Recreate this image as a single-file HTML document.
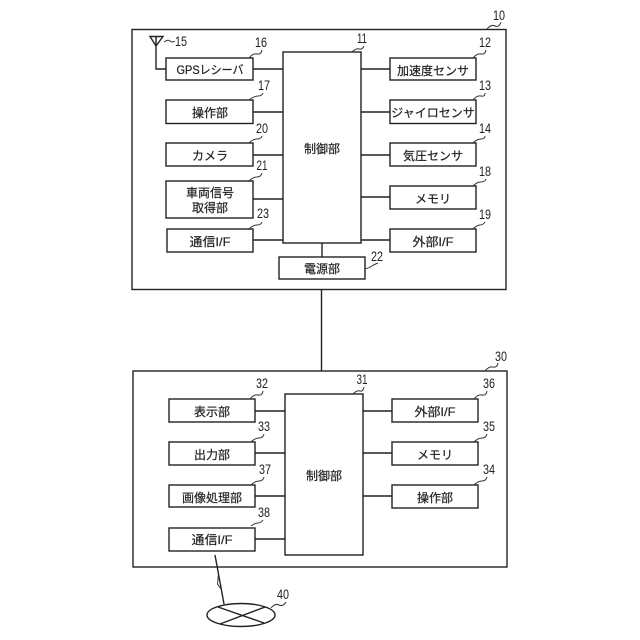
<!DOCTYPE html>
<html>
<head>
<meta charset="utf-8">
<style>
html,body{margin:0;padding:0;background:#fff;}
svg{display:block;}
rect{fill:#fff;stroke:#222;stroke-width:1.4;}
.l{fill:none;stroke:#222;stroke-width:1.4;}
.c{fill:none;stroke:#333;stroke-width:1;}
text{font-family:"Liberation Sans","Noto Sans CJK JP",sans-serif;fill:#222;}
.t{font-size:12px;text-anchor:middle;stroke:#222;stroke-width:.2;}
.n{font-size:13.5px;font-family:"Liberation Sans",sans-serif;text-anchor:middle;}
</style>
</head>
<body>
<svg width="640" height="640" viewBox="0 0 640 640" xmlns="http://www.w3.org/2000/svg">
<rect x="132" y="29.500" width="374" height="260"/>
<rect x="133" y="371" width="374" height="196"/>
<path class="l" d="M321.500 290V371"/>

<!-- top connectors -->
<path class="l" d="M253 69H283M253 112H283M253 155H283M253 199H283M253 240H283M361 69H390M361 112H390M361 155H390M361 197H390M361 240H390M322 243V257"/>
<!-- antenna -->
<path class="l" d="M150 36.500H163L156 46ZM156 36.500V46M156 46V69H166"/>
<path class="c" d="M164 42Q168 39 170 41T175 41"/>

<rect x="283" y="52" width="78" height="191"/>
<rect x="166" y="58" width="87" height="22"/>
<rect x="166" y="100" width="87" height="23.500"/>
<rect x="166" y="143" width="87" height="23"/>
<rect x="166" y="181" width="87" height="37"/>
<rect x="167" y="229" width="86" height="23"/>
<rect x="390" y="58" width="86" height="22"/>
<rect x="390" y="100" width="86" height="23.500"/>
<rect x="390" y="143" width="86" height="23"/>
<rect x="390" y="186" width="86" height="23"/>
<rect x="390" y="229" width="86" height="23"/>
<rect x="279" y="257" width="86" height="22"/>

<text class="t" x="322" y="153">制御部</text>
<text class="t" x="210" y="74" textLength="67" lengthAdjust="spacingAndGlyphs">GPSレシーバ</text>
<text class="t" x="210" y="117">操作部</text>
<text class="t" x="210" y="160">カメラ</text>
<text class="t" x="210" y="197">車両信号</text>
<text class="t" x="210" y="212">取得部</text>
<text class="t" x="210" y="246" textLength="41" lengthAdjust="spacingAndGlyphs">通信I/F</text>
<text class="t" x="433" y="75">加速度センサ</text>
<text class="t" x="433" y="117">ジャイロセンサ</text>
<text class="t" x="433" y="160">気圧センサ</text>
<text class="t" x="433" y="203">メモリ</text>
<text class="t" x="433" y="246" textLength="41" lengthAdjust="spacingAndGlyphs">外部I/F</text>
<text class="t" x="322" y="273">電源部</text>

<!-- ref numbers top -->
<text class="n" x="499" y="20" textLength="12" lengthAdjust="spacingAndGlyphs">10</text>
<path class="c" d="M487 29Q491 24 495 26T501 22"/>
<text class="n" x="362" y="43" textLength="10" lengthAdjust="spacingAndGlyphs">11</text>
<path class="c" d="M352 52Q356 48 359 49T364 46"/>
<text class="n" x="485" y="47" textLength="12" lengthAdjust="spacingAndGlyphs">12</text>
<path class="c" d="M473 58Q477 53 481 54T486 50"/>
<text class="n" x="485" y="90" textLength="12" lengthAdjust="spacingAndGlyphs">13</text>
<path class="c" d="M473 100Q477 95 481 96T485 93"/>
<text class="n" x="485" y="133" textLength="12" lengthAdjust="spacingAndGlyphs">14</text>
<path class="c" d="M473 143Q477 139 481 139T485 136"/>
<text class="n" x="485" y="176" textLength="12" lengthAdjust="spacingAndGlyphs">18</text>
<path class="c" d="M473 186Q477 182 481 182T486 179"/>
<text class="n" x="485" y="219" textLength="12" lengthAdjust="spacingAndGlyphs">19</text>
<path class="c" d="M473 229Q477 225 480 225T485 222"/>
<text class="n" x="377" y="261" textLength="12" lengthAdjust="spacingAndGlyphs">22</text>
<path class="c" d="M365 269Q369 268 372 266T378 263"/>
<text class="n" x="261" y="47" textLength="12" lengthAdjust="spacingAndGlyphs">16</text>
<path class="c" d="M249 58Q253 53 257 54T262 50"/>
<text class="n" x="264" y="90" textLength="12" lengthAdjust="spacingAndGlyphs">17</text>
<path class="c" d="M249 100Q254 96 258 96T263 93"/>
<text class="n" x="262" y="133" textLength="12" lengthAdjust="spacingAndGlyphs">20</text>
<path class="c" d="M249 143Q253 139 257 139T262 136"/>
<text class="n" x="262" y="170" textLength="11" lengthAdjust="spacingAndGlyphs">21</text>
<path class="c" d="M249 181Q253 177 257 177T262 173"/>
<text class="n" x="263" y="218" textLength="12" lengthAdjust="spacingAndGlyphs">23</text>
<path class="c" d="M249 229Q253 225 257 225T262 222"/>
<text class="n" x="181" y="46" textLength="12" lengthAdjust="spacingAndGlyphs">15</text>

<!-- bottom connectors -->
<path class="l" d="M255 411H285M255 453H285M255 496H285M255 539H285M363 411H392M363 453H392M363 496H392"/>
<rect x="285" y="394" width="78" height="161"/>
<rect x="169" y="399" width="86" height="23"/>
<rect x="169" y="442" width="86" height="23"/>
<rect x="169" y="485" width="86" height="22"/>
<rect x="169" y="528" width="86" height="23"/>
<rect x="392" y="399" width="86" height="23"/>
<rect x="392" y="442" width="86" height="23"/>
<rect x="392" y="485" width="86" height="23"/>

<text class="t" x="324" y="480">制御部</text>
<text class="t" x="212" y="416">表示部</text>
<text class="t" x="212" y="459">出力部</text>
<text class="t" x="212" y="502">画像処理部</text>
<text class="t" x="212" y="544" textLength="41" lengthAdjust="spacingAndGlyphs">通信I/F</text>
<text class="t" x="435" y="416" textLength="41" lengthAdjust="spacingAndGlyphs">外部I/F</text>
<text class="t" x="435" y="459">メモリ</text>
<text class="t" x="435" y="502">操作部</text>

<text class="n" x="362" y="384" textLength="11" lengthAdjust="spacingAndGlyphs">31</text>
<path class="c" d="M353 394Q357 390 360 391T364 387"/>
<text class="n" x="262" y="388" textLength="12" lengthAdjust="spacingAndGlyphs">32</text>
<path class="c" d="M250 399Q254 394 258 395T263 391"/>
<text class="n" x="264" y="431" textLength="12" lengthAdjust="spacingAndGlyphs">33</text>
<path class="c" d="M251 442Q255 438 259 438T264 434"/>
<text class="n" x="265" y="474" textLength="12" lengthAdjust="spacingAndGlyphs">37</text>
<path class="c" d="M251 485Q255 481 259 481T264 477"/>
<text class="n" x="264" y="517" textLength="12" lengthAdjust="spacingAndGlyphs">38</text>
<path class="c" d="M251 526Q255 523 258 523T263 520"/>
<text class="n" x="489" y="388" textLength="12" lengthAdjust="spacingAndGlyphs">36</text>
<path class="c" d="M474 399Q478 394 482 395T487 391"/>
<text class="n" x="489" y="431" textLength="12" lengthAdjust="spacingAndGlyphs">35</text>
<path class="c" d="M474 442Q478 438 482 438T487 434"/>
<text class="n" x="489" y="474" textLength="12" lengthAdjust="spacingAndGlyphs">34</text>
<path class="c" d="M474 485Q478 481 482 481T487 477"/>
<text class="n" x="501" y="361" textLength="12" lengthAdjust="spacingAndGlyphs">30</text>
<path class="c" d="M485 371Q489 366 493 367T498 363"/>

<!-- network -->
<path class="l" d="M215 555L224 604"/>
<path class="c" d="M218.500 574L217.500 584L221 589"/>
<ellipse cx="241" cy="615" rx="34" ry="11.500" fill="#fff" stroke="#222" stroke-width="1.4"/>
<path class="l" d="M218 607L264 623M265 607L220 624"/>
<text class="n" x="283" y="599" textLength="12" lengthAdjust="spacingAndGlyphs">40</text>
<path class="c" d="M271 608Q275 603 279 605T286 602"/>
</svg>
</body>
</html>
